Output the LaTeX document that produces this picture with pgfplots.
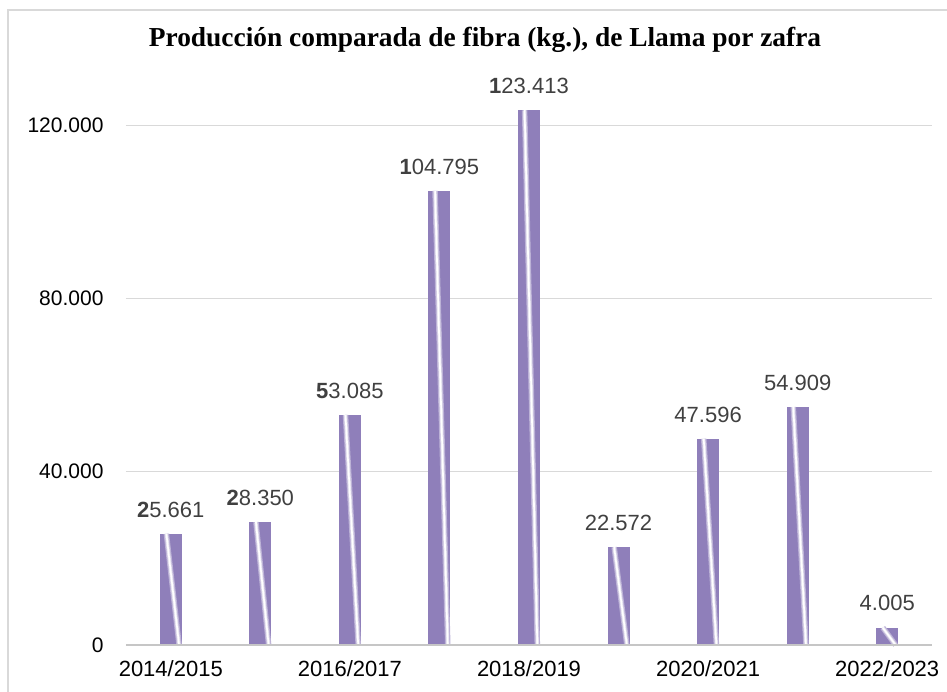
\documentclass[border=0pt]{standalone}
\usepackage{pgfplots}
\pgfplotsset{compat=1.18}
\usepackage{fontspec}
\setmainfont{Liberation Sans}
\newfontfamily\titlefont{Liberation Serif}

\definecolor{barp}{HTML}{8F7FBA}
\definecolor{gridc}{HTML}{D9D9D9}
\definecolor{labc}{HTML}{404040}

\pgfplotsset{
  barplot/.style={ybar, draw=none, fill=barp, point meta=explicit symbolic, nodes near coords},
  streakl/.style={sharp plot, mark=none, forget plot, unbounded coords=jump, line cap=butt},
}

\begin{document}
\begin{tikzpicture}
  \path[use as bounding box] (-126pt,-46pt) rectangle (821pt,645pt);
  \draw[gridc, line width=1.5pt] (-118pt,-100pt) -- (-118pt,635pt) -- (900pt,635pt);
  \node[font=\titlefont\bfseries\fontsize{27.4}{30}\selectfont] at (359pt,605pt)
    {Producción comparada de fibra (kg.), de Llama por zafra};
  \begin{axis}[
    at={(0pt,0pt)}, anchor=south west,
    scale only axis,
    width=806pt, height=550.3pt,
    xmin=-0.5, xmax=8.5,
    ymin=0, ymax=127000,
    axis line style={draw=none},
    major tick length=0pt,
    scaled y ticks=false,
    ymajorgrids,
    grid style={draw=gridc, line width=1pt},
    ytick={0,40000,80000,120000},
    yticklabels={0,40.000,80.000,120.000},
    xtick={0,2,4,6,8},
    xticklabels={2014/2015,2016/2017,2018/2019,2020/2021,2022/2023},
    tick label style={font=\fontsize{21}{21}\selectfont, color=black},
    yticklabel style={xshift=-19pt},
    xticklabel style={yshift=-12pt, font=\fontsize{22}{22}\selectfont},
    bar width=22pt, bar shift=0pt,
    every node near coord/.append style={font=\fontsize{22}{22}\selectfont, color=labc, yshift=13pt},
    clip=false
  ]
    \addplot[barplot] coordinates {(0,25661) [{\textbf{2}5.661}]};
    \addplot[barplot] coordinates {(1,28350) [{\textbf{2}8.350}]};
    \addplot[barplot] coordinates {(2,53085) [{\textbf{5}3.085}]};
    \addplot[barplot] coordinates {(3,104795) [{\textbf{1}04.795}]};
    \addplot[barplot] coordinates {(4,123413) [{\textbf{1}23.413}]};
    \addplot[barplot] coordinates {(5,22572) [{22.572}]};
    \addplot[barplot] coordinates {(6,47596) [{47.596}]};
    \addplot[barplot] coordinates {(7,54909) [{54.909}]};
    \addplot[barplot] coordinates {(8,4005) [{4.005}]};
    % glossy diagonal streak on each bar: soft halo, then white core
    \addplot[streakl, barp!60!white, line width=5.5pt] coordinates {
      (-0.049,25661) (0.093,0) (nan,nan) (0.951,28350) (1.093,0) (nan,nan)
      (1.951,53085) (2.093,0) (nan,nan) (2.951,104795) (3.093,0) (nan,nan)
      (3.951,123413) (4.093,0) (nan,nan) (4.951,22572) (5.093,0) (nan,nan)
      (5.951,47596) (6.093,0) (nan,nan) (6.951,54909) (7.093,0) (nan,nan)
      (7.951,4005) (8.093,0)};
    \addplot[streakl, barp!25!white, line width=3.2pt] coordinates {
      (-0.049,25661) (0.093,0) (nan,nan) (0.951,28350) (1.093,0) (nan,nan)
      (1.951,53085) (2.093,0) (nan,nan) (2.951,104795) (3.093,0) (nan,nan)
      (3.951,123413) (4.093,0) (nan,nan) (4.951,22572) (5.093,0) (nan,nan)
      (5.951,47596) (6.093,0) (nan,nan) (6.951,54909) (7.093,0) (nan,nan)
      (7.951,4005) (8.093,0)};
    \addplot[streakl, white, line width=1.6pt] coordinates {
      (-0.049,25661) (0.093,0) (nan,nan) (0.951,28350) (1.093,0) (nan,nan)
      (1.951,53085) (2.093,0) (nan,nan) (2.951,104795) (3.093,0) (nan,nan)
      (3.951,123413) (4.093,0) (nan,nan) (4.951,22572) (5.093,0) (nan,nan)
      (5.951,47596) (6.093,0) (nan,nan) (6.951,54909) (7.093,0) (nan,nan)
      (7.951,4005) (8.093,0)};
    \draw[color=gray!45, line width=2.5pt] (axis cs:-0.5,0) -- (axis cs:8.5,0);
  \end{axis}
\end{tikzpicture}
\end{document}
